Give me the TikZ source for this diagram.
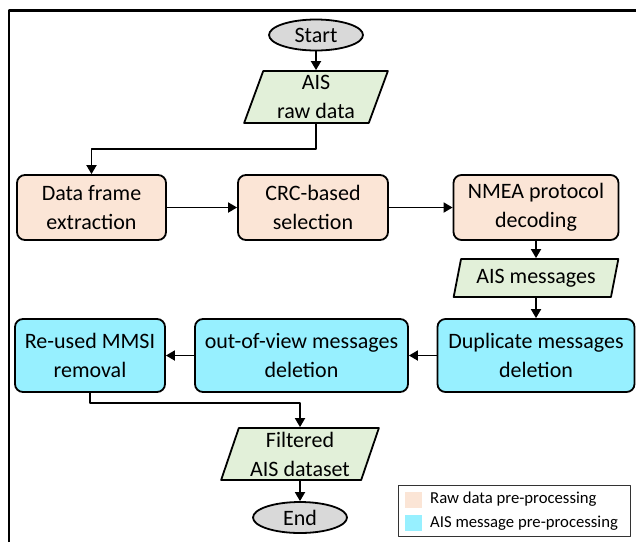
\documentclass[tikz,border=0pt]{standalone}
\usepackage{fontspec}
\setmainfont{Carlito}
\usetikzlibrary{arrows.meta, positioning, shapes.geometric}
\definecolor{aispeach}{HTML}{FBE5D6}
\definecolor{aiscyan}{HTML}{97F0FF}
\definecolor{aisgreen}{HTML}{E2F0D9}
\definecolor{aisgray}{HTML}{D9D9D9}

\begin{document}
\begin{tikzpicture}[
  x=1pt, y=-1pt,
  font=\fontsize{22}{29}\selectfont,
  >={Triangle[length=9pt,width=10pt]},
  line join=round,
  flow/.style={->, line width=1.8pt},
  term/.style={ellipse, draw, line width=1.8pt, fill=aisgray,
    minimum width=94pt, minimum height=31pt, inner sep=0pt},
  rawbox/.style={draw, line width=1.8pt, rounded corners=8pt, fill=aispeach,
    align=center, minimum height=65pt, inner sep=0pt},
  msgbox/.style={draw, line width=1.8pt, rounded corners=8pt, fill=aiscyan,
    align=center, minimum height=73pt, inner sep=0pt},
  data/.style={trapezium, trapezium left angle=72, trapezium right angle=108,
    trapezium stretches=true, draw, line width=1.8pt, fill=aisgreen,
    align=center, inner sep=0pt},
  swatch/.style={minimum width=17pt, minimum height=16pt, inner sep=0pt},
  legtext/.style={anchor=west, font=\fontsize{16.7}{20}\selectfont, inner sep=0pt},
]
\useasboundingbox (0,0) rectangle (636,542);

% outer frame
\draw[line width=2.2pt] (9,542) -- (9,10.5) -- (636,10.5);

% ----- input -----
\node[term] (start) at (316,35) {Start};
\node[data, minimum width=144pt, minimum height=52pt] (raw) at (316,97) {AIS\\raw data};

% ----- raw data pre-processing -----
\node[rawbox, minimum width=149pt] (frame) at (91.5,207.5) {Data frame\\extraction};
\node[rawbox, minimum width=150pt] (crc) at (313,207.5) {CRC-based\\selection};
\node[rawbox, minimum width=165pt] (nmea) at (536,207.5) {NMEA protocol\\decoding};
\node[data, minimum width=165pt, minimum height=38pt] (msgs) at (536,278) {AIS messages};

% ----- AIS message pre-processing -----
\node[msgbox, minimum width=197pt] (dup) at (536,355.5) {Duplicate messages\\deletion};
\node[msgbox, minimum width=213pt] (oov) at (301.5,355.5) {out-of-view messages\\deletion};
\node[msgbox, minimum width=150pt] (mmsi) at (90,355.5) {Re-used MMSI\\removal};

% ----- output -----
\node[data, minimum width=158pt, minimum height=52pt] (filt) at (300,454) {Filtered\\AIS dataset};
\node[term] (end) at (300,517.5) {End};

% connectors
\draw[flow] (start) -- (raw);
\draw[flow] (raw.south) -- ++(0,25) -| (frame.north);
\draw[flow] (frame) -- (crc);
\draw[flow] (crc) -- (nmea);
\draw[flow] (nmea) -- (msgs);
\draw[flow] (msgs) -- (dup);
\draw[flow] (dup) -- (oov);
\draw[flow] (oov) -- (mmsi);
\draw[flow] (mmsi.south) -- ++(0,10) -| (filt.north);
\draw[flow] (filt) -- (end);

% legend
\draw[line width=0.8pt, draw=black!80] (398,485) rectangle (630,536);
\node[swatch, fill=aispeach] (swraw) at (413.5,499.5) {};
\node[swatch, fill=aiscyan] (swmsg) at (413.5,523) {};
\node[legtext] at (430,499.5) {Raw data pre-processing};
\node[legtext] at (430,523) {AIS message pre-processing};
\end{tikzpicture}
\end{document}
